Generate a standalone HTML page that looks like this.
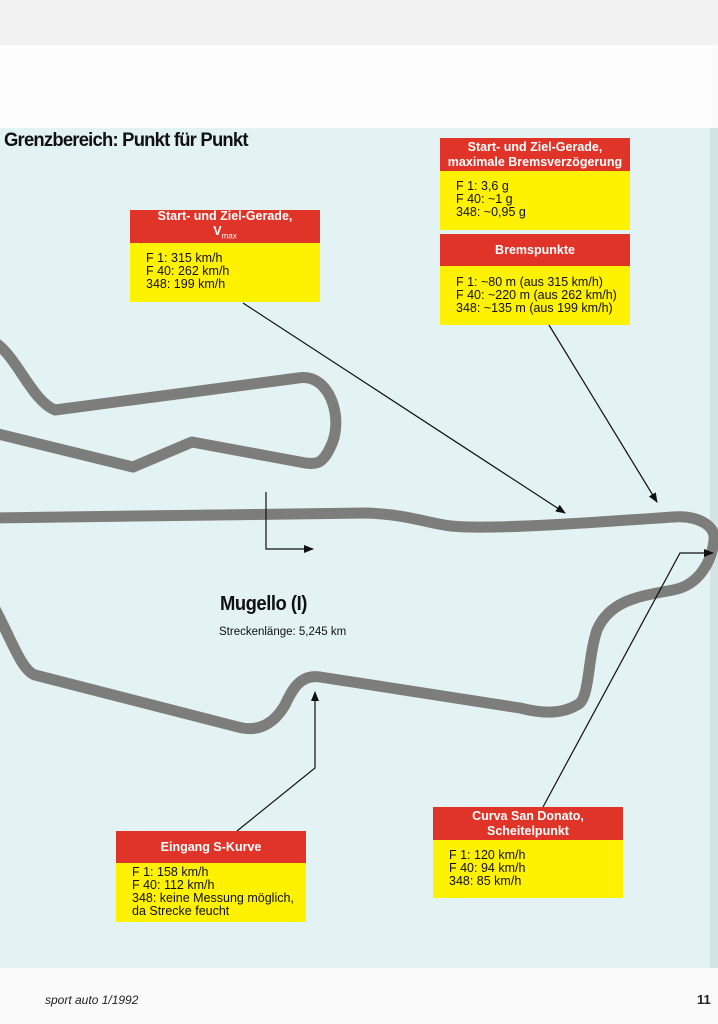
<!DOCTYPE html>
<html><head><meta charset="utf-8"><style>
html,body{margin:0;padding:0}
body{width:718px;height:1024px;position:relative;overflow:hidden;background:#fbfbfb;font-family:"Liberation Sans",sans-serif}
.bg{position:absolute;left:0;top:128px;width:712px;height:840px;background:#e3f2f2}
.top{position:absolute;left:0;top:0;width:718px;height:45px;background:#f2f2f2}
.white{position:absolute;left:0;top:45px;width:712px;height:83px;background:#fdfdfd}
.edge{position:absolute;right:0;top:128px;width:8px;height:840px;background:#d2e4e4}
.box{position:absolute;width:190px}
.box .h{background:#e03428;color:#fff;font-weight:bold;font-size:12.5px;text-align:center;line-height:15px;display:flex;align-items:center;justify-content:center;flex-direction:column}
.box .b{background:#fff200;color:#111;font-size:12.5px;line-height:13px;padding:0 0 0 16px;box-sizing:border-box;white-space:nowrap}
svg{position:absolute;left:0;top:0}
.title{position:absolute;left:4px;top:130px;font-size:19px;font-weight:900;letter-spacing:-0.8px;color:#111;transform:scaleX(.97);transform-origin:left}
</style></head><body>
<div class="top"></div><div class="white"></div><div class="bg"></div><div class="edge"></div>
<div class="title">Grenzbereich: Punkt für Punkt</div>
<svg width="718" height="1024" viewBox="0 0 718 1024">
<defs><marker id="a" markerWidth="10" markerHeight="8" refX="9" refY="4" orient="auto" markerUnits="userSpaceOnUse"><path d="M0,0 L10,4 L0,8 z" fill="#111"/></marker></defs>
<g fill="none" stroke="#7d7d7b" stroke-width="11" stroke-linejoin="round" stroke-linecap="round">
<path d="M-10,340 C15,350 30,400 55,410 L298,378 C330,372 345,420 330,448 C322,465 315,465 300,462 L192,442 L133,467 L-10,432"/>
<path d="M-10,518 L366,513 C420,515 430,527 470,527 C520,528 600,522 673,517 C700,515 716,527 714,540 C712,560 700,585 673,590 C640,596 610,600 597,630 C587,660 590,700 577,705 C560,715 540,713 520,708 L320,677 C300,674 292,690 285,705 C275,722 260,733 238,727 L35,675 C20,670 8,630 -10,600"/>
</g>
<g stroke="#111" stroke-width="1.2" fill="none">
<line x1="243" y1="303" x2="565" y2="513" marker-end="url(#a)"/>
<line x1="549" y1="325" x2="657" y2="502" marker-end="url(#a)"/>
<polyline points="266,492 266,549 313,549" marker-end="url(#a)"/>
<polyline points="237,831 315,768 315,692" marker-end="url(#a)"/>
<polyline points="543,807 680,553 713,553" marker-end="url(#a)"/>
</g>
</svg>
<div class="box" style="left:130px;top:210px"><div class="h" style="height:33px">Start- und Ziel-Gerade,<span>V<sub style="font-size:8px;font-weight:normal">max</sub></span></div><div class="b" style="height:59px;padding-top:9px">F 1: 315 km/h<br>F 40: 262 km/h<br>348: 199 km/h</div></div>
<div class="box" style="left:440px;top:138px"><div class="h" style="height:33px">Start- und Ziel-Gerade,<br>maximale Bremsverzögerung</div><div class="b" style="height:59px;padding-top:9px">F 1: 3,6 g<br>F 40: ~1 g<br>348: ~0,95 g</div></div>
<div class="box" style="left:440px;top:234px"><div class="h" style="height:32px">Bremspunkte</div><div class="b" style="height:59px;padding-top:10px">F 1: ~80 m (aus 315 km/h)<br>F 40: ~220 m (aus 262 km/h)<br>348: ~135 m (aus 199 km/h)</div></div>
<div class="box" style="left:116px;top:831px"><div class="h" style="height:32px">Eingang S-Kurve</div><div class="b" style="height:59px;padding-top:3px">F 1: 158 km/h<br>F 40: 112 km/h<br>348: keine Messung möglich,<br>da Strecke feucht</div></div>
<div class="box" style="left:433px;top:807px"><div class="h" style="height:33px">Curva San Donato,<br>Scheitelpunkt</div><div class="b" style="height:58px;padding-top:9px">F 1: 120 km/h<br>F 40: 94 km/h<br>348: 85 km/h</div></div>
<div style="position:absolute;left:220px;top:593px;font-size:20px;font-weight:900;letter-spacing:-0.5px;transform:scaleX(.92);transform-origin:left;color:#111">Mugello (I)</div>
<div style="position:absolute;left:219px;top:626px;font-size:11.5px;color:#111">Streckenlänge: 5,245 km</div>
<div style="position:absolute;left:45px;top:993px;font-size:12px;font-style:italic;color:#222">sport auto 1/1992</div>
<div style="position:absolute;left:697px;top:992px;font-size:13px;font-weight:bold;color:#222">11</div>
</body></html>
